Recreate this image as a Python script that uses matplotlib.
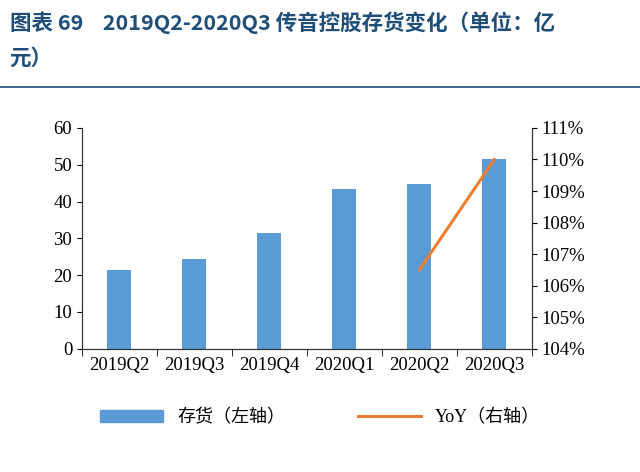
import matplotlib.pyplot as plt
from matplotlib.patches import Patch
from matplotlib.lines import Line2D
from matplotlib.ticker import FuncFormatter, FixedLocator

plt.rcParams['font.family'] = ['Liberation Serif', 'Noto Sans CJK SC']

quarters = ['2019Q2', '2019Q3', '2019Q4', '2020Q1', '2020Q2', '2020Q3']
inventory = [21.5, 24.5, 31.5, 43.3, 44.7, 51.5]
yoy_idx = [4, 5]
yoy = [1.065, 1.100]

fig = plt.figure(figsize=(6.4, 4.72), dpi=100)
title_color = '#1f4e79'
fig.text(0.015, 0.975, '图表 69    2019Q2-2020Q3 传音控股存货变化（单位：亿', fontsize=15.5,
         fontweight='bold', color=title_color, va='top', family=['Noto Sans CJK SC', 'Liberation Serif'])
fig.text(0.015, 0.900, '元）', fontsize=15.5, fontweight='bold', color=title_color, va='top',
         family=['Noto Sans CJK SC'])
fig.add_artist(Line2D([0.0, 1.0], [0.815, 0.815], color=title_color, lw=1.2))

ax = fig.add_axes([0.128, 0.261, 0.703, 0.468])
x = list(range(len(quarters)))
ax.bar(x, inventory, width=0.32, color='#5b9bd5')
ax.set_xlim(-0.5, 5.5)
ax.set_ylim(0, 60)
ax.set_yticks(range(0, 61, 10))
ax.set_xticks(x)
ax.set_xticklabels(quarters)
ax.xaxis.set_minor_locator(FixedLocator([i - 0.5 for i in range(7)]))
ax.tick_params(axis='x', which='major', length=0, labelsize=13.5, pad=6)
ax.tick_params(axis='x', which='minor', length=5, direction='out')
ax.tick_params(axis='y', labelsize=13.5, direction='out')
ax.spines['top'].set_visible(False)
for s in ax.spines.values():
    s.set_color('#333333')

ax2 = ax.twinx()
ax2.plot(yoy_idx, yoy, color='#ed7d31', lw=2.2)
ax2.set_ylim(1.04, 1.11)
ax2.set_yticks([1.04 + 0.01 * i for i in range(8)])
ax2.yaxis.set_major_formatter(FuncFormatter(lambda v, p: '%d%%' % round(v * 100)))
ax2.tick_params(axis='y', labelsize=13.5, direction='out')
ax2.spines['top'].set_visible(False)
for s in ax2.spines.values():
    s.set_color('#333333')

handles = [Patch(color='#5b9bd5'), Line2D([0], [0], color='#ed7d31', lw=2.2)]
fig.legend(handles, ['存货（左轴）', 'YoY（右轴）'], loc='center', bbox_to_anchor=(0.5, 0.115),
           ncol=2, frameon=False, handlelength=3.5, columnspacing=4,
           prop={'family': ['Liberation Serif', 'Noto Sans CJK SC'], 'size': 13})

fig.savefig('out.png', dpi=100)
